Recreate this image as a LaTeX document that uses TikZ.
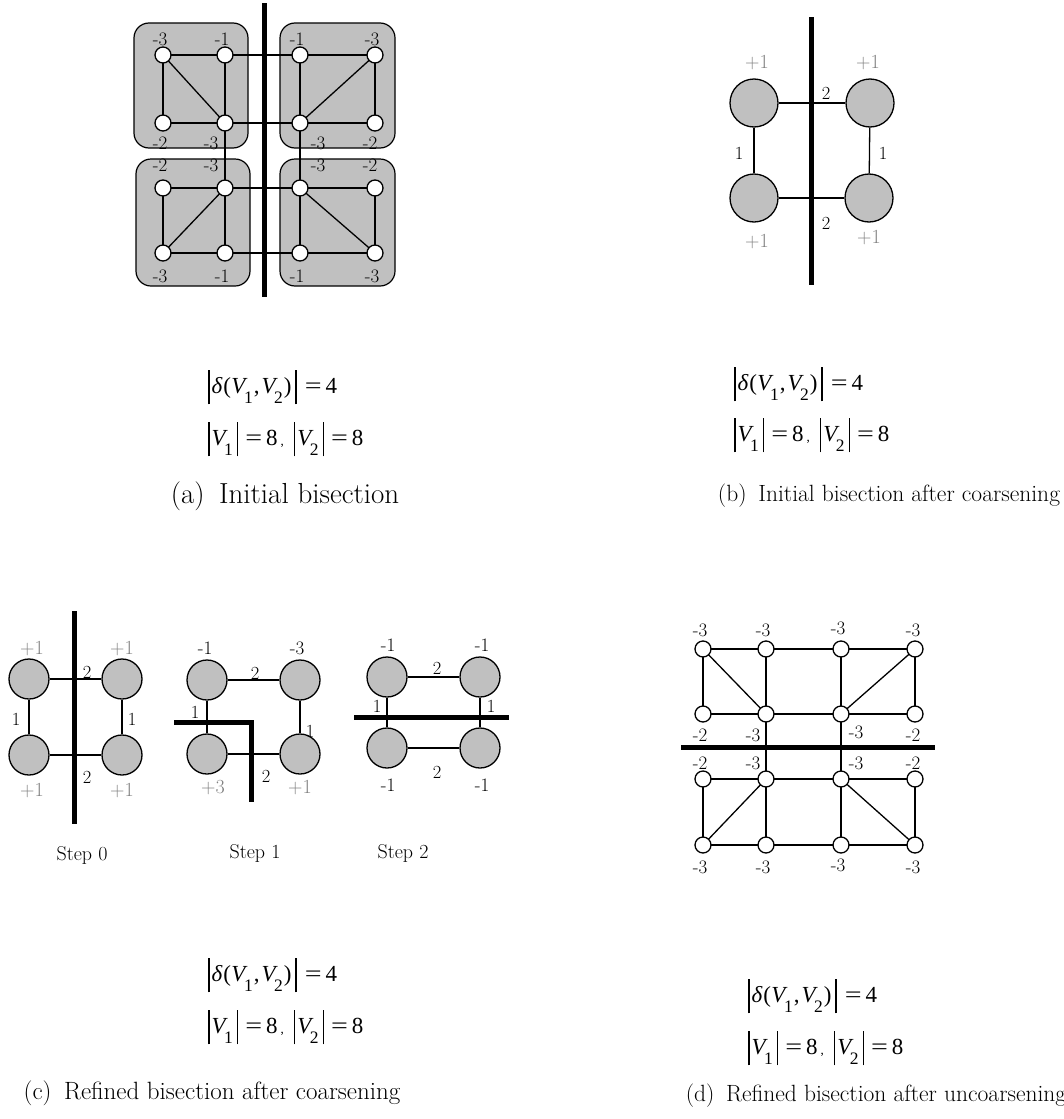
\documentclass[tikz,border=0pt]{standalone}
\usepackage{fontspec}
\newfontfamily\tms{Liberation Serif}
\definecolor{boxgray}{RGB}{192,192,192}
\definecolor{wgray}{RGB}{128,128,128}
\newcommand\vbar{\rule[-0.45em]{1.4pt}{1.5em}}
\newcommand\sbs[1]{\raisebox{-0.4em}{\fontsize{17.5}{17.5}\selectfont #1}}
\newcommand\eqs{\scalebox{1.3}[1]{=}}
\newcommand\fone{\tms\vbar\kern2pt{\itshape δ}\kern1pt(\kern0.5pt{\itshape V}\kern-1.5pt\sbs{1}\kern1pt,\kern2pt{\itshape V}\kern-1.5pt\sbs{2}\kern1pt)\kern4pt\vbar\kern8pt\eqs\kern4pt4}
\newcommand\ftwo{\tms\vbar\kern2pt{\itshape V}\kern-1.5pt\sbs{1}\kern4pt\vbar\kern7pt\eqs\kern4pt8\kern3pt{\fontsize{13}{13}\selectfont,}\kern10pt\vbar\kern2pt{\itshape V}\kern-1.5pt\sbs{2}\kern4pt\vbar\kern7pt\eqs\kern4pt8}
\begin{document}
\begin{tikzpicture}[x=1pt,y=-1pt,
  edge/.style={line width=1.3pt},
  cutbar/.style={line width=5pt},
  sv/.style={circle,draw,line width=1.3pt,fill=white,minimum size=16pt,inner sep=0pt},
  bvb/.style={circle,draw,line width=1.3pt,fill=boxgray,minimum size=48pt,inner sep=0pt},
  bvc/.style={circle,draw,line width=1.3pt,fill=boxgray,minimum size=40pt,inner sep=0pt},
  grp/.style={draw,line width=1.2pt,fill=boxgray,rounded corners=15pt},
  wl/.style={font=\fontsize{19}{19}\selectfont,inner sep=0pt},
  gl/.style={font=\fontsize{20}{20}\selectfont,inner sep=0pt,text=wgray},
  el/.style={font=\fontsize{18.5}{18.5}\selectfont,inner sep=0pt},
  stepl/.style={font=\fontsize{20}{20}\selectfont,inner sep=0pt},
  fml/.style={font=\tms\fontsize{23}{23}\selectfont,inner sep=0pt,anchor=west},
]
\useasboundingbox (0,0) rectangle (1064,1119);

% ---------------- (a) ----------------
\draw[grp] (134,23) rectangle (248,148);
\draw[grp] (280,23) rectangle (395,148);
\draw[grp] (136,159) rectangle (250,286);
\draw[grp] (280,159) rectangle (395,286);
\foreach \c/\x in {1/163,2/225,3/300,4/375}
  \foreach \r/\y in {1/55,2/123,3/188,4/253}
    \coordinate (a\c\r) at (\x,\y);
\foreach \c/\x in {1/703,2/766,3/841,4/915}
  \foreach \r/\y in {1/649,2/714,3/779,4/845}
    \coordinate (d\c\r) at (\x,\y);
\foreach \p/\q in {11/21,21/31,31/41,12/22,22/32,32/42,13/23,23/33,33/43,14/24,24/34,34/44,11/12,13/14,21/22,22/23,23/24,31/32,32/33,33/34,41/42,43/44,11/22,41/32,23/14,33/44}{
  \draw[edge] (a\p) -- (a\q);
  \draw[edge] (d\p) -- (d\q);
}
\foreach \c in {1,2,3,4}
  \foreach \r in {1,2,3,4}{
    \node[sv] (na\c\r) at (a\c\r) {};
    \node[sv] (nd\c\r) at (d\c\r) {};
  }
\coordinate (acut1) at (264,3);
\coordinate (acut2) at (264,297);
\draw[cutbar] (acut1) -- (acut2);
% labels (a)
\node[wl] (la11) at (160,39) {-3};
\node[wl] (la21) at (222,39) {-1};
\node[wl] (la31) at (297,39) {-1};
\node[wl] (la41) at (372,39) {-3};
\node[wl] (la12) at (160,143) {-2};
\node[wl] (la22) at (211,143) {-3};
\node[wl] (la32) at (318,143) {-3};
\node[wl] (la42) at (370,143) {-2};
\node[wl] (la13) at (160,165) {-2};
\node[wl] (la23) at (211,165) {-3};
\node[wl] (la33) at (318,165) {-3};
\node[wl] (la43) at (370,165) {-2};
\node[wl] (la14) at (160,276) {-3};
\node[wl] (la24) at (222,276) {-1};
\node[wl] (la34) at (297,276) {-1};
\node[wl] (la44) at (372,276) {-3};

% ---------------- (b) ----------------
\node[bvb] (b1) at (754,103) {};
\node[bvb] (b2) at (870,103) {};
\node[bvb] (b3) at (754,198) {};
\node[bvb] (b4) at (869,198) {};
\draw[edge] (b1) -- (b2);
\draw[edge] (b3) -- (b4);
\draw[edge] (b1) -- (b3);
\draw[edge] (b2) -- (b4);
\coordinate (bcut1) at (811,17);
\coordinate (bcut2) at (811,285);
\draw[cutbar] (bcut1) -- (bcut2);
\node[gl] (lb1) at (757,63) {+1};
\node[gl] (lb2) at (868,63) {+1};
\node[gl] (lb3) at (757,242) {+1};
\node[gl] (lb4) at (869,238) {+1};
\node[el] (eb1) at (826,93) {2};
\node[el] (eb2) at (826,223) {2};
\node[el] (eb3) at (739,153) {1};
\node[el] (eb4) at (883,153) {1};

% ---------------- (c) step 0 ----------------
\node[bvc] (s01) at (29,679) {};
\node[bvc] (s02) at (122,679) {};
\node[bvc] (s03) at (29,755) {};
\node[bvc] (s04) at (122,755) {};
\draw[edge] (s01) -- (s02);
\draw[edge] (s03) -- (s04);
\draw[edge] (s01) -- (s03);
\draw[edge] (s02) -- (s04);
\coordinate (c0cut1) at (74,611);
\coordinate (c0cut2) at (74,824);
\draw[cutbar] (c0cut1) -- (c0cut2);
\node[gl] (l01) at (32,649) {+1};
\node[gl] (l02) at (122,649) {+1};
\node[gl] (l03) at (32,791) {+1};
\node[gl] (l04) at (122,791) {+1};
\node[el] (e01) at (87,672) {2};
\node[el] (e02) at (87,777) {2};
\node[el] (e03) at (16,719) {1};
\node[el] (e04) at (132,719) {1};
\node[stepl] (st0) at (82,855) {Step 0};

% ---------------- (c) step 1 ----------------
\node[bvc] (s11) at (207,680) {};
\node[bvc] (s12) at (300,680) {};
\node[bvc] (s13) at (207,754) {};
\node[bvc] (s14) at (300,754) {};
\draw[edge] (s11) -- (s12);
\draw[edge] (s13) -- (s14);
\draw[edge] (s11) -- (s13);
\draw[edge] (s12) -- (s14);
\coordinate (c1cut1) at (174,722);
\coordinate (c1cut2) at (251,722);
\coordinate (c1cut3) at (251,802);
\draw[cutbar] (c1cut1) -- (c1cut2) -- (c1cut3);
\node[wl] (l11) at (205,648) {-1};
\node[wl] (l12) at (297,648) {-3};
\node[gl] (l13) at (213,788) {+3};
\node[gl] (l14) at (300,788) {+1};
\node[el] (e11) at (255,673) {2};
\node[el] (e12) at (266,776) {2};
\node[el] (e13) at (195,712) {1};
\node[el] (e14) at (310,731) {1};
\node[stepl] (st1) at (255,853) {Step 1};

% ---------------- (c) step 2 ----------------
\node[bvc] (s21) at (387,677) {};
\node[bvc] (s22) at (480,677) {};
\node[bvc] (s23) at (387,748) {};
\node[bvc] (s24) at (480,748) {};
\draw[edge] (s21) -- (s22);
\draw[edge] (s23) -- (s24);
\draw[edge] (s21) -- (s23);
\draw[edge] (s22) -- (s24);
\coordinate (c2cut1) at (354,717);
\coordinate (c2cut2) at (509,717);
\draw[cutbar] (c2cut1) -- (c2cut2);
\node[wl] (l21) at (388,645) {-1};
\node[wl] (l22) at (482,645) {-1};
\node[wl] (l23) at (388,785) {-1};
\node[wl] (l24) at (482,785) {-1};
\node[el] (e21) at (437,668) {2};
\node[el] (e22) at (437,772) {2};
\node[el] (e23) at (377,706) {1};
\node[el] (e24) at (491,706) {1};
\node[stepl] (st2) at (403,853) {Step 2};

% ---------------- (d) ----------------
\coordinate (dcut1) at (681,747);
\coordinate (dcut2) at (935,747);
\draw[cutbar] (dcut1) -- (dcut2);
\node[wl] (ld11) at (700,630) {-3};
\node[wl] (ld21) at (763,630) {-3};
\node[wl] (ld31) at (838,628) {-3};
\node[wl] (ld41) at (913,630) {-3};
\node[wl] (ld12) at (700,735) {-2};
\node[wl] (ld22) at (753,735) {-3};
\node[wl] (ld32) at (856,732) {-3};
\node[wl] (ld42) at (913,735) {-2};
\node[wl] (ld13) at (700,763) {-2};
\node[wl] (ld23) at (753,763) {-3};
\node[wl] (ld33) at (856,763) {-3};
\node[wl] (ld43) at (913,763) {-2};
\node[wl] (ld14) at (700,867) {-3};
\node[wl] (ld24) at (763,867) {-3};
\node[wl] (ld34) at (838,865) {-3};
\node[wl] (ld44) at (913,867) {-3};

% ---------------- formulas ----------------
\node[fml] (fa1) at (208,387) {\fone};
\node[fml] (fa2) at (208,439) {\ftwo};
\node[fml] (fb1) at (734,384) {\fone};
\node[fml] (fb2) at (734,435) {\ftwo};
\node[fml] (fc1) at (208,975) {\fone};
\node[fml] (fc2) at (208,1027) {\ftwo};
\node[fml] (fd1) at (748,996) {\fone};
\node[fml] (fd2) at (748,1048) {\ftwo};

% ---------------- captions ----------------
\node[inner sep=0pt,font=\fontsize{29}{29}\selectfont] (capa) at (285,496) {(a)\hspace{0.5em}Initial bisection};
\node[inner sep=0pt,font=\fontsize{23.5}{23.5}\selectfont] (capb) at (889,496) {(b)\hspace{0.5em}Initial bisection after coarsening};
\node[inner sep=0pt,font=\fontsize{25}{25}\selectfont] (capc) at (212,1093) {(c)\hspace{0.5em}Refined bisection after coarsening};
\node[inner sep=0pt,font=\fontsize{23.5}{23.5}\selectfont] (capd) at (876,1096) {(d)\hspace{0.5em}Refined bisection after uncoarsening};
\end{tikzpicture}
\end{document}
